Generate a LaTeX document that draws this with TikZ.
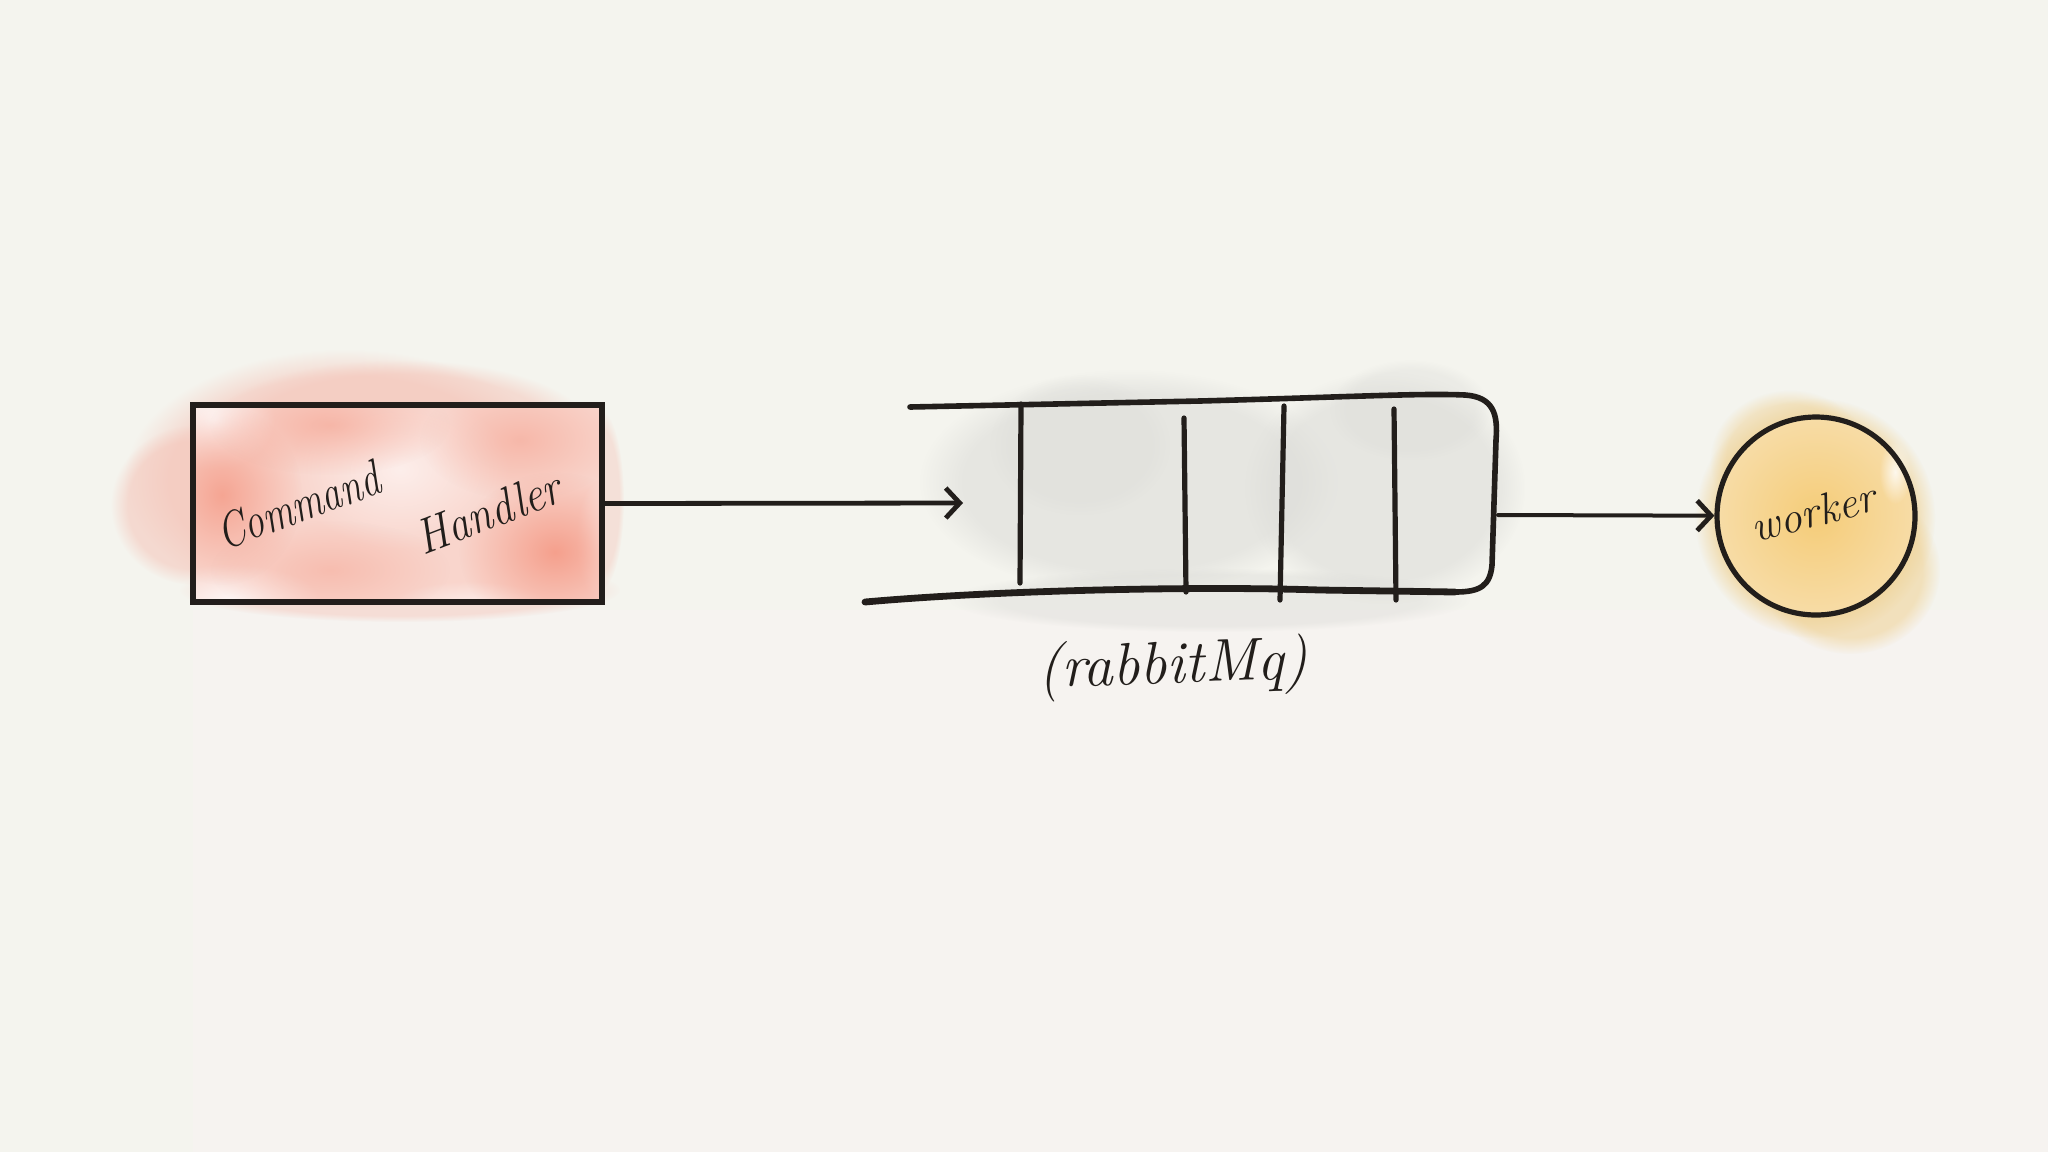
\documentclass[tikz,border=0pt]{standalone}
\usepackage{fontspec}
\usetikzlibrary{arrows.meta,fadings}
\definecolor{bgtop}{HTML}{F4F4EE}
\definecolor{bglow}{HTML}{F6F3F0}
\definecolor{ink}{HTML}{221E1B}
\definecolor{pinkout}{HTML}{F4C4B8}
\definecolor{pinkin}{HTML}{F9D5CC}
\definecolor{pinkdark}{HTML}{F5A08D}
\definecolor{grayblob}{HTML}{DCDCD8}
\definecolor{yelout}{HTML}{F0D49A}
\definecolor{yelin}{HTML}{F5CC78}
\definecolor{yeledge}{HTML}{F7DCA6}
\tikzfading[name=softfade, inner color=transparent!0, outer color=transparent!100]
\tikzset{
  fuzzy/.style={path fading=circle with fuzzy edge 20 percent},
  soft/.style={path fading=softfade},
  hand/.style={text=ink, font=\itshape, inner sep=0pt},
  arr/.style={draw=ink, line width=2.4pt, line cap=round, -{Straight Barb[length=7pt,width=15pt,line width=2.4pt]}},
  pen/.style={draw=ink, line width=2.8pt, line cap=round, line join=round},
}
\begin{document}
\begin{tikzpicture}[x=0.5pt,y=-0.5pt]
\fill[bgtop] (0,0) rectangle (2048,1152);
\useasboundingbox (0,0) rectangle (2048,1152);
\fill[bglow] (193,610) rectangle (2048,1152);

% ---- red watercolour behind Command Handler
\fill[pinkout, fuzzy, opacity=0.55] (345,480) ellipse [x radius=110pt, y radius=65pt];
\fill[pinkout, fuzzy, opacity=0.55] (195,505) ellipse [x radius=42pt, y radius=40pt];
\fill[pinkout, fuzzy, opacity=0.5] (400,430) ellipse [x radius=95pt, y radius=35pt];
\fill[pinkout, fuzzy, opacity=0.45] (400,590) ellipse [x radius=110pt, y radius=16pt];
\fill[pinkout, fuzzy, opacity=0.4] (600,500) ellipse [x radius=12pt, y radius=45pt];
\fill[pinkin] (193,405) rectangle (602,602);
\begin{scope}
  \clip (193,405) rectangle (602,602);
  \fill[white, soft, opacity=0.9] (215,420) ellipse [x radius=30pt, y radius=25pt];
  \fill[white, soft, opacity=0.6] (400,470) ellipse [x radius=55pt, y radius=40pt];
  \fill[white, soft, opacity=0.8] (230,600) ellipse [x radius=45pt, y radius=18pt];
  \fill[white, soft, opacity=0.6] (470,605) ellipse [x radius=40pt, y radius=12pt];
  \fill[white, soft, opacity=0.8] (600,540) ellipse [x radius=12pt, y radius=30pt];
  \fill[pinkdark, soft, opacity=0.9] (222,495) ellipse [x radius=40pt, y radius=45pt];
  \fill[pinkdark, soft, opacity=1] (555,552) ellipse [x radius=48pt, y radius=40pt];
  \fill[pinkdark, soft, opacity=0.6] (330,425) ellipse [x radius=60pt, y radius=25pt];
  \fill[pinkdark, soft, opacity=0.55] (520,440) ellipse [x radius=50pt, y radius=30pt];
  \fill[pinkdark, soft, opacity=0.45] (330,570) ellipse [x radius=60pt, y radius=25pt];
\end{scope}

% ---- gray watercolour behind queue
\fill[grayblob, fuzzy, opacity=0.55] (1130,482) ellipse [x radius=105pt, y radius=56pt];
\fill[grayblob, fuzzy, opacity=0.55] (1385,488) ellipse [x radius=70pt, y radius=58pt];
\fill[grayblob, fuzzy, opacity=0.45] (1210,600) ellipse [x radius=130pt, y radius=16pt];
\fill[grayblob, fuzzy, opacity=0.35] (1080,445) ellipse [x radius=45pt, y radius=35pt];
\fill[grayblob, fuzzy, opacity=0.35] (1410,410) ellipse [x radius=40pt, y radius=25pt];

% ---- yellow watercolour behind worker
\fill[yelout, fuzzy, opacity=0.85] (1815,518) ellipse [x radius=60pt, y radius=60pt];
\fill[yelout, fuzzy, opacity=0.6] (1850,570) ellipse [x radius=45pt, y radius=42pt];
\fill[yelout, fuzzy, opacity=0.5] (1790,460) ellipse [x radius=40pt, y radius=35pt];
\shade[inner color=yelin, outer color=yeledge] (1816,516) circle [radius=49pt];
\fill[white, soft, opacity=0.8] (1895,472) ellipse [x radius=8pt, y radius=16pt];

% ---- Command Handler box
\node[draw=ink, line width=3pt, minimum width=204.5pt, minimum height=98.5pt, inner sep=0pt] (cmd) at (397.5,503.5) {};
\node[hand, rotate=20, xscale=0.78, font=\itshape\fontsize{25}{25}\selectfont] (cmdA) at (298,505) {Command};
\node[hand, rotate=21, xscale=0.88, font=\itshape\fontsize{25}{25}\selectfont] (cmdB) at (488,512) {Handler};

% ---- queue
\coordinate (qin) at (963,503);
\coordinate (qout) at (1498,515);
\draw[pen] (910,407) -- (1200,401) .. controls (1350,397) and (1420,393) .. (1465,395)
  .. controls (1494,397) and (1498,415) .. (1496,440) -- (1492,565)
  .. controls (1490,586) and (1480,592) .. (1455,592);
\draw[pen, line width=3.4pt] (1455,592) -- (1320,590)
  .. controls (1200,586) and (1000,590) .. (865,602);
\draw[pen, line width=2.6pt] (1021,404) -- (1020,583);
\draw[pen, line width=2.6pt] (1184,418) -- (1186,592);
\draw[pen, line width=2.6pt] (1284,406) -- (1280,600);
\draw[pen, line width=2.6pt] (1394,409) -- (1396,600);
\node[hand, rotate=2, font=\itshape\fontsize{30}{30}\selectfont] (rmq) at (1173,668) {(rabbitMq)};

% ---- worker
\node[draw=ink, line width=2.6pt, circle, minimum size=99pt, inner sep=0pt] (worker) at (1816,516) {};
\node[hand, rotate=15, font=\itshape\fontsize{22}{22}\selectfont] (wtxt) at (1813,512) {worker};

% ---- arrows
\draw[arr] (cmd.east) -- (qin);
\draw[arr, line width=2pt] (qout) -- (worker);
\end{tikzpicture}
\end{document}
